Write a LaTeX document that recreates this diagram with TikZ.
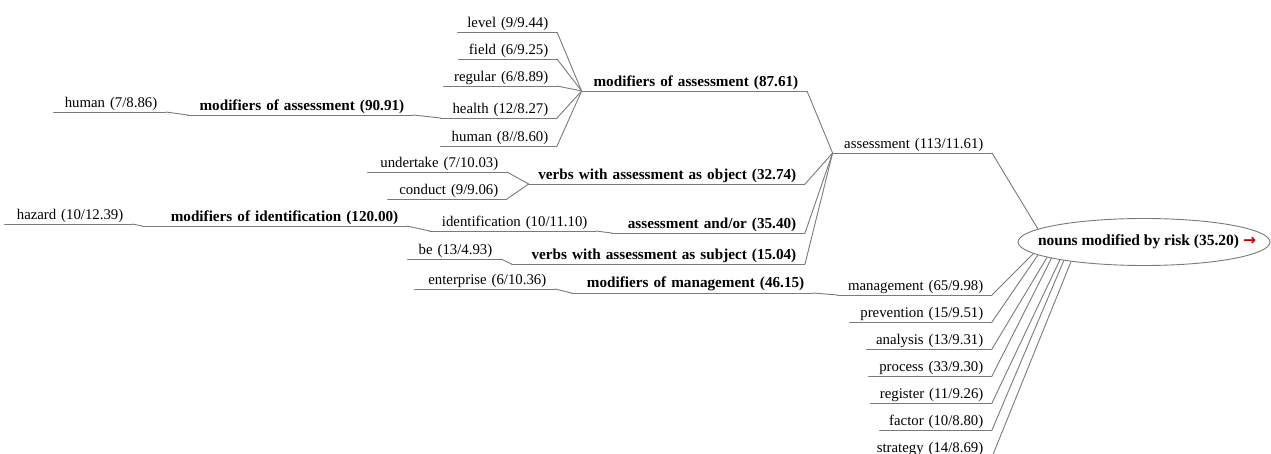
\documentclass[tikz,border=0pt]{standalone}
\usepackage{fontspec}
\setmainfont{Liberation Serif}
\newfontfamily\arrowfont{DejaVu Sans}
\usetikzlibrary{shapes.geometric}
\definecolor{linegray}{HTML}{7A7A7A}
\definecolor{arrowred}{HTML}{C00000}
\newcommand{\wordfont}{\fontsize{14.8}{17}\selectfont}
\newcommand{\relfont}{\fontsize{15.2}{18}\selectfont\bfseries}

\begin{document}
\begin{tikzpicture}[
      x=1pt, y=-1pt,
      word/.style={anchor=south east, inner xsep=8.5pt, inner ysep=1.5pt, font=\wordfont,
                   execute at begin node={\hbox to\linewidth\bgroup\hss},
                   execute at end node={\egroup}},
      rel/.style={word, font=\relfont},
      link/.style={draw=linegray, line width=0.9pt, line cap=round},
      hub/.style={ellipse, draw=linegray, line width=0.9pt, minimum width=252pt, minimum height=47pt, inner sep=0pt}
    ]
      \useasboundingbox (0,0) rectangle (1271,454);
      % head of the sketch
      \node[hub] (root) at (1144,242) {};
      \node[font=\fontsize{15.5}{18}\selectfont\bfseries] (rootlbl) at ([xshift=3pt]root.center) {nouns modified by risk (35.20) {\arrowfont\color{arrowred}→}};

      % assessment branch
      \node[word, text width=142pt] (ass) at (992,153) {assessment (113/11.61)};
      \node[rel, text width=208pt] (moda) at (807,91) {modifiers of assessment (87.61)};
      \node[word, text width=82pt] (level) at (557,32) {level (9/9.44)};
      \node[word, text width=81pt] (field) at (557,59) {field (6/9.25)};
      \node[word, text width=96pt] (regular) at (557,86) {regular (6/8.89)};
      \node[word, text width=99pt] (health) at (557,118) {health (12/8.27)};
      \node[word, text width=99pt] (humanb) at (557,146) {human (8//8.60)};
      \node[rel, text width=208pt] (modab) at (413,115) {modifiers of assessment (90.91)};
      \node[word, text width=95pt] (humana) at (166,112) {human (7/8.86)};
      \node[rel, text width=259pt] (vobj) at (805,184) {verbs with assessment as object (32.74)};
      \node[word, text width=122pt] (undertake) at (507,172) {undertake (7/10.03)};
      \node[word, text width=102pt] (conduct) at (507,199) {conduct (9/9.06)};
      \node[rel, text width=176pt] (andor) at (805,233) {assessment and/or (35.40)};
      \node[word, text width=149pt] (ident) at (596,231) {identification (10/11.10)};
      \node[rel, text width=247pt] (modid) at (407,226) {modifiers of identification (120.00)};
      \node[word, text width=110pt] (hazard) at (132,224) {hazard (10/12.39)};
      \node[rel, text width=276pt] (vsubj) at (805,264) {verbs with assessment as subject (15.04)};
      \node[word, text width=76pt] (be) at (501,259) {be (13/4.93)};

      % other nouns
      \node[word, text width=137pt] (mgmt) at (992,295) {management (65/9.98)};
      \node[rel, text width=224pt] (modm) at (813,293) {modifiers of management (46.15)};
      \node[word, text width=123pt] (enterprise) at (555,289) {enterprise (6/10.36)};
      \node[word, text width=125pt] (prev) at (992,322) {prevention (15/9.51)};
      \node[word, text width=108pt] (analysis) at (992,349) {analysis (13/9.31)};
      \node[word, text width=106pt] (process) at (992,376) {process (33/9.30)};
      \node[word, text width=104pt] (register) at (992,403) {register (11/9.26)};
      \node[word, text width=95pt] (factor) at (992,430) {factor (10/8.80)};
      \node[word, text width=107pt] (strategy) at (992,457) {strategy (14/8.69)};

      % underlines
      \foreach \n in {ass, moda, level, field, regular, health, humanb, modab, humana,
                      vobj, undertake, conduct, andor, ident, modid, hazard, vsubj, be,
                      mgmt, modm, enterprise, prev, analysis, process, register, factor, strategy}
        \draw[link] (\n.south west) -- (\n.south east);

      % links
      \foreach \c in {level, field, regular, health, humanb}
        \draw[link] (\c.south east) -- (moda.south west);
      \draw[link] (humana.south east) -- (modab.south west);
      \draw[link] (modab.south east) -- (health.south west);
      \foreach \c in {undertake, conduct}
        \draw[link] (\c.south east) -- (vobj.south west);
      \draw[link] (hazard.south east) -- (modid.south west);
      \draw[link] (modid.south east) -- (ident.south west);
      \draw[link] (ident.south east) -- (andor.south west);
      \draw[link] (be.south east) -- (vsubj.south west);
      \foreach \c in {moda, vobj, andor, vsubj}
        \draw[link] (\c.south east) -- (ass.south west);
      \draw[link] (enterprise.south east) -- (modm.south west);
      \draw[link] (modm.south east) -- (mgmt.south west);
      \draw[link] (ass.south east) -- (root.173);
      \foreach \n/\a in {mgmt/186, prev/187.5, analysis/189, process/190.5, register/192, factor/193.5, strategy/195}
        \draw[link] (\n.south east) -- (root.\a);
    \end{tikzpicture}
\end{document}
